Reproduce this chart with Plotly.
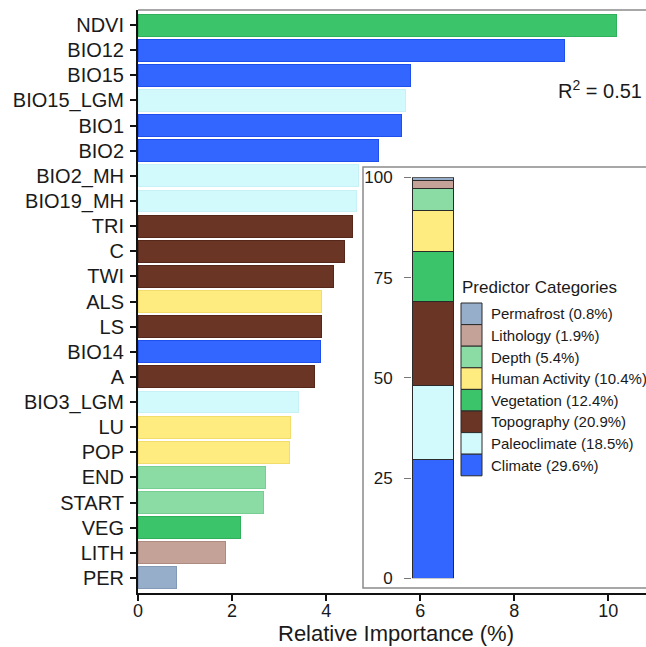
import plotly.graph_objects as go

# ---- data ----
predictors = ["NDVI", "BIO12", "BIO15", "BIO15_LGM", "BIO1", "BIO2", "BIO2_MH", "BIO19_MH",
              "TRI", "C", "TWI", "ALS", "LS", "BIO14", "A", "BIO3_LGM", "LU", "POP",
              "END", "START", "VEG", "LITH", "PER"]
importance = [10.18, 9.07, 5.80, 5.68, 5.61, 5.12, 4.68, 4.65,
              4.56, 4.40, 4.16, 3.91, 3.90, 3.88, 3.76, 3.41, 3.24, 3.22,
              2.71, 2.66, 2.17, 1.87, 0.81]
predictor_group = ["Vegetation", "Climate", "Climate", "Paleoclimate", "Climate", "Climate",
                   "Paleoclimate", "Paleoclimate", "Topography", "Topography", "Topography",
                   "Human Activity", "Topography", "Climate", "Topography", "Paleoclimate",
                   "Human Activity", "Human Activity", "Depth", "Depth", "Vegetation",
                   "Lithology", "Permafrost"]

# stacked from the bottom upwards
categories = ["Climate", "Paleoclimate", "Topography", "Vegetation",
              "Human Activity", "Depth", "Lithology", "Permafrost"]
category_share = [29.6, 18.5, 20.9, 12.4, 10.4, 5.4, 1.9, 0.8]

r_squared = 0.51
x_ticks = [0, 2, 4, 6, 8, 10]
inset_ticks = [0, 25, 50, 75, 100]

# ---- styles ----
fill = {
    "Climate": "#3366FF", "Paleoclimate": "#D2F9FC", "Topography": "#6B3526",
    "Vegetation": "#3CC46A", "Human Activity": "#FFEC80", "Depth": "#8ADCA4",
    "Lithology": "#C4A298", "Permafrost": "#97AECA",
}
edge = {
    "Climate": "#1F50EE", "Paleoclimate": "#C6F1F6", "Topography": "#55261A",
    "Vegetation": "#30B05A", "Human Activity": "#F2DD6C", "Depth": "#76CE92",
    "Lithology": "#AE8B81", "Permafrost": "#8399B8",
}
FONT = "Liberation Sans, Arial, sans-serif"
INK = "#1a1a1a"

W, H = 646, 647
ML, MR, MT, MB = 138, 0, 10, 54
PW, PH = W - ML - MR, H - MT - MB


def px_x(x):
    return (x - ML) / PW


def px_y(y):
    return (H - MB - y) / PH


fig = go.Figure()

# main horizontal bar chart
fig.add_trace(go.Bar(
    x=importance, y=predictors, orientation="h",
    width=0.87,
    marker=dict(color=[fill[g] for g in predictor_group],
                line=dict(color=[edge[g] for g in predictor_group], width=1)),
    showlegend=False, hoverinfo="x+y",
))

# inset stacked bar of category shares
for cat, share in zip(categories, category_share):
    fig.add_trace(go.Bar(
        x=[0], y=[share], width=1,
        marker=dict(color=fill[cat], line=dict(color="#2a2a2a", width=1)),
        name=f"{cat} ({share}%)", showlegend=False,
        xaxis="x2", yaxis="y2",
    ))

inset_x0 = px_x(412)
fig.update_layout(
    width=W, height=H,
    margin=dict(l=ML, r=MR, t=MT, b=MB, pad=0),
    paper_bgcolor="white", plot_bgcolor="white",
    barmode="stack",
    font=dict(family=FONT, color=INK),
    xaxis=dict(
        range=[0, 10.8], tickvals=x_ticks,
        showgrid=False, zeroline=False,
        showline=True, linecolor="#111", linewidth=2,
        ticks="outside", ticklen=6, tickwidth=1.5, tickcolor="#111",
        ticklabelstandoff=-6,
        tickfont=dict(size=18, family=FONT, color=INK),
    ),
    yaxis=dict(
        type="category", range=[22.6, -0.6],
        showgrid=False, zeroline=False,
        showline=True, linecolor="#111", linewidth=2,
        ticks="outside", ticklen=6, tickwidth=1.5, tickcolor="#111",
        ticklabelstandoff=2,
        tickfont=dict(size=20, family=FONT, color=INK),
    ),
    xaxis2=dict(domain=[inset_x0, 1], range=[-0.5, -0.5 + (W - 412) / 41],
                visible=False, anchor="y2"),
    yaxis2=dict(domain=[px_y(578.3), px_y(177.3)], range=[0, 100],
                tickvals=inset_ticks, anchor="x2",
                showgrid=False, zeroline=False, showline=False,
                ticks="outside", ticklen=7, tickwidth=1.2, tickcolor="#777",
                ticklabelstandoff=8,
                tickfont=dict(size=17, family=FONT, color=INK)),
)

shapes = [
    # top frame line of the main panel
    dict(type="line", xref="paper", yref="paper", x0=0, x1=1, y0=1, y1=1,
         line=dict(color="#8a8a8a", width=1.5)),
    # inset frame
    dict(type="rect", xref="paper", yref="paper",
         x0=px_x(363), x1=px_x(W + 5), y0=px_y(588), y1=px_y(167),
         line=dict(color="#8a8a8a", width=1.5), fillcolor="white", layer="below"),
]
annotations = [
    dict(text="Relative Importance (%)", xref="paper", yref="paper",
         x=px_x(396), y=px_y(648), xanchor="center", yanchor="bottom",
         showarrow=False, font=dict(size=22, family=FONT, color=INK)),
    dict(text=f"R<sup>2</sup> = {r_squared:.2f}", xref="paper", yref="paper",
         x=px_x(644), y=px_y(89), xanchor="right", yanchor="middle",
         showarrow=False, font=dict(size=20, family=FONT, color=INK)),
    dict(text="Predictor Categories", xref="paper", yref="paper",
         x=px_x(460), y=px_y(287), xanchor="left", yanchor="middle",
         showarrow=False, font=dict(size=17, family=FONT, color=INK)),
]

# category key, listed top to bottom
sw_top, sw_h = 303, 21.6
for i, (cat, share) in enumerate(zip(categories[::-1], category_share[::-1])):
    y0 = sw_top + i * sw_h
    shapes.append(dict(type="rect", xref="paper", yref="paper",
                       x0=px_x(461), x1=px_x(482), y0=px_y(y0 + sw_h), y1=px_y(y0),
                       fillcolor=fill[cat], line=dict(color="#2a2a2a", width=1)))
    annotations.append(dict(text=f"{cat} ({share}%)", xref="paper", yref="paper",
                            x=px_x(489), y=px_y(y0 + sw_h / 2),
                            xanchor="left", yanchor="middle", showarrow=False,
                            font=dict(size=15, family=FONT, color=INK)))

fig.update_layout(shapes=shapes, annotations=annotations)

fig.write_html("out.html")
